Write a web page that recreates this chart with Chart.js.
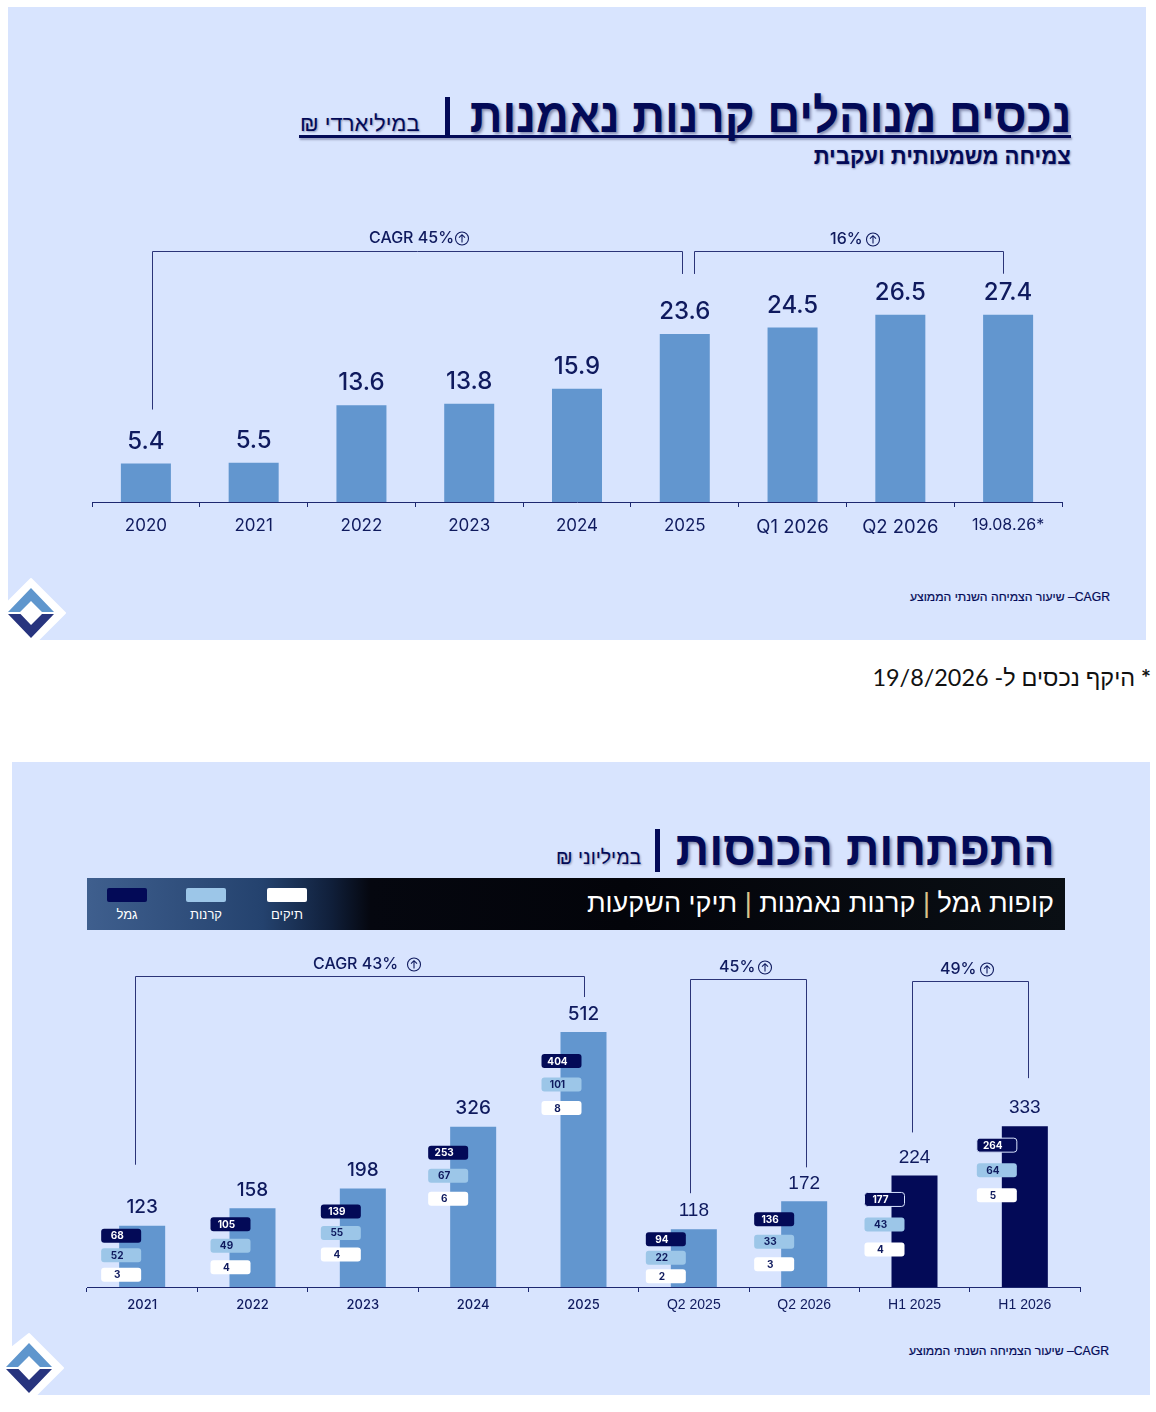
<!DOCTYPE html>
<html lang="he">
<head>
<meta charset="utf-8">
<title>נכסים מנוהלים והכנסות</title>
<script src="https://cdn.jsdelivr.net/npm/chart.js@4"></script>
<style>
  html, body { margin: 0; padding: 0; background: #fff; }
  body { position: relative; width: 1156px; height: 1412px; overflow: hidden; font-family: "Liberation Sans", sans-serif; color: #030a57; }
  .panel { position: absolute; background: #d8e4fe; width: 1138px; height: 633px; }
  #panel1 { left: 8px; top: 7px; }
  #panel2 { left: 12px; top: 762px; }
  .txt { position: absolute; white-space: nowrap; direction: rtl; line-height: 1; }
  .title { font-weight: bold; font-size: 48px; text-shadow: 2px 2px 3px rgba(0, 0, 50, .4); transform-origin: right center; }
  .unit { text-shadow: 1px 1px 2px rgba(0, 0, 50, .35); }
  .note { font-size: 12.2px; -webkit-text-stroke: .2px #030a57; }
  .bar { position: absolute; background: #030a57; width: 5px; }
  canvas { position: absolute; left: 0; }
  #chart1 { top: 220px; }
  #chart2 { top: 950px; }
  .logo { position: absolute; }
  #banner { position: absolute; left: 87px; top: 878px; width: 978px; height: 52px;
    background: linear-gradient(90deg, #3f5f8e 0%, #24426e 18%, #101f3a 25%, #05070f 29%, #03040a 55%, #0a0f14 100%); }
  .sw { position: absolute; top: 10px; width: 40px; height: 14px; border-radius: 2px; }
  .swl { position: absolute; top: 29px; width: 40px; text-align: center; color: #fff; font-size: 13px; direction: rtl; }
  #bannertxt { right: 11px; top: 12px; color: #fff; font-size: 27px; }
  #bannertxt b { color: #d9c48a; font-weight: normal; }
</style>
</head>
<body>
<div class="panel" id="panel1"></div>
<div class="panel" id="panel2"></div>

<div class="txt title" style="right:85px;top:92px;transform:scaleX(.95)">נכסים מנוהלים קרנות נאמנות</div>
<div class="bar" style="left:445px;top:97px;height:40px"></div>
<div class="txt unit" style="left:300px;top:113px;font-size:22px">במיליארדי ₪</div>
<div style="position:absolute;left:299px;top:135px;width:772px;height:3px;background:#030a57;box-shadow:1px 2px 2px rgba(0,0,50,.3)"></div>
<div class="txt unit" style="right:85px;top:145px;font-size:23px;font-weight:bold;transform:scaleX(.96);transform-origin:right center">צמיחה משמעותית ועקבית</div>
<div class="txt note" style="right:46px;top:591px">CAGR– שיעור הצמיחה השנתי הממוצע</div>
<div class="txt" style="right:5px;top:666px;font-size:23.4px;color:#111;font-family:Lato,'Liberation Sans',sans-serif"><b>*</b> היקף נכסים ל- 19/8/2026</div>

<div class="txt title" style="right:101px;top:825px;transform:scaleX(.97)">התפתחות הכנסות</div>
<div class="bar" style="left:655px;top:829px;height:43px"></div>
<div class="txt unit" style="left:556px;top:848px;font-size:19.5px">במיליוני ₪</div>
<div id="banner">
  <div class="sw" style="left:180px;background:#fff"></div><div class="swl" style="left:180px" id="lab0"></div>
  <div class="sw" style="left:99px;background:#9cc6e8"></div><div class="swl" style="left:99px" id="lab1"></div>
  <div class="sw" style="left:20px;background:#030a57"></div><div class="swl" style="left:20px" id="lab2"></div>
  <div class="txt" id="bannertxt">קופות גמל <b>|</b> קרנות נאמנות <b>|</b> תיקי השקעות</div>
</div>
<div class="txt note" style="right:47px;top:1345px">CAGR– שיעור הצמיחה השנתי הממוצע</div>

<svg class="logo" style="left:8px;top:570px" width="70" height="70" viewBox="8 570 70 70">
  <polygon points="31,579 65,613 38,640 8,640 8,602" fill="#fff" stroke="#fff" stroke-width="2" stroke-linejoin="round"/>
  <polygon points="31,588 54,612 42,612 31,601 20,612 8,612" fill="#5f96cd"/>
  <polygon points="8,614 20.5,614 31,625 42,614 54,614 31,638" fill="#27347e"/>
</svg>
<svg class="logo" style="left:0;top:1325px" width="80" height="70" viewBox="0 1325 80 70">
  <polygon points="29,1334 63,1368 36,1395 0,1395 0,1357 " fill="#fff" stroke="#fff" stroke-width="2" stroke-linejoin="round"/>
  <polygon points="29,1343 52,1367 40,1367 29,1356 18,1367 6,1367" fill="#5f96cd"/>
  <polygon points="6,1369 18.5,1369 29,1380 40,1369 52,1369 29,1393" fill="#27347e"/>
</svg>

<canvas id="chart1" width="1156" height="330"></canvas>
<canvas id="chart2" width="1156" height="370"></canvas>

<script>
// --- DATA ---
const aumCategories = ['2020', '2021', '2022', '2023', '2024', '2025', 'Q1 2026', 'Q2 2026', '19.08.26*'];
const aumLabels = ['5.4', '5.5', '13.6', '13.8', '15.9', '23.6', '24.5', '26.5', '27.4'];
// bar heights as drawn in the picture: the last bar is no taller than Q2 2026
const aumBarHeights = [5.4, 5.5, 13.6, 13.8, 15.9, 23.6, 24.5, 26.3, 26.3];

const incomeCategories = ['2021', '2022', '2023', '2024', '2025', 'Q2 2025', 'Q2 2026', 'H1 2025', 'H1 2026'];
const incomeLabels = ['123', '158', '198', '326', '512', '118', '172', '224', '333'];
// same here, 326 / 118 / 333 are drawn a bit shorter than the label says
const incomeBarHeights = [123, 158, 198, 322, 512, 116, 172, 224, 323];
const gemel = [68, 105, 139, 253, 404, 94, 136, 177, 264];
const keranot = [52, 49, 55, 67, 101, 22, 33, 43, 64];
const tikim = [3, 4, 4, 6, 8, 2, 3, 4, 5];
const seriesNames = ['תיקים', 'קרנות', 'גמל'];

// --- LAYOUT OF THE CHIPS (pixels, relative to each bar) ---
const chipShift = [-21, -22, -22, -25, -22, -28, -30, -30, -28];
const chipDrop = [10, 16, 23, 26, 29, 10, 18, 24, 19];
const chipStep = [19.5, 21.5, 21.5, 23, 23.5, 18.5, 22.5, 25, 25];

const NAVY = '#030a57';
const INK = '#0f1a5e';
const BAR = '#6296cf';
const UI_FONT = 'Inter, sans-serif';
const ARIAL = '"Liberation Sans", sans-serif';

seriesNames.forEach((n, i) => { document.getElementById('lab' + i).textContent = n; });

function circleArrow(ctx, cx, cy) {
  ctx.save();
  ctx.strokeStyle = INK;
  ctx.lineWidth = 1.1;
  ctx.beginPath();
  ctx.arc(cx, cy, 6.5, 0, Math.PI * 2);
  ctx.moveTo(cx, cy + 4);
  ctx.lineTo(cx, cy - 3.5);
  ctx.moveTo(cx - 3, cy - 0.8);
  ctx.lineTo(cx, cy - 3.8);
  ctx.lineTo(cx + 3, cy - 0.8);
  ctx.stroke();
  ctx.restore();
}

function drawBracket(chart, heights, b) {
  const x = chart.scales.x, y = chart.scales.y, ctx = chart.ctx;
  const left = Math.round(x.getPixelForValue(b.from) + b.dxL) + 0.5;
  const right = Math.round(x.getPixelForValue(b.to) + b.dxR) + 0.5;
  const top = chart.chartArea.top + b.drop + 0.5;
  ctx.save();
  ctx.strokeStyle = '#2b3478';
  ctx.lineWidth = 1;
  ctx.beginPath();
  ctx.moveTo(left, y.getPixelForValue(heights[b.from]) - b.gapL);
  ctx.lineTo(left, top);
  ctx.lineTo(right, top);
  ctx.lineTo(right, y.getPixelForValue(heights[b.to]) - b.gapR);
  ctx.stroke();
  ctx.fillStyle = INK;
  ctx.font = '500 16px ' + UI_FONT;
  ctx.textAlign = 'left';
  ctx.textBaseline = 'middle';
  ctx.fillText(b.text, b.textX, top - b.up);
  circleArrow(ctx, b.circleX, top - b.up);
  ctx.restore();
}

function valueLabels(chart, heights, labels, size, gap, fontFor) {
  const x = chart.scales.x, y = chart.scales.y, ctx = chart.ctx;
  ctx.save();
  ctx.fillStyle = INK;
  ctx.textAlign = 'center';
  ctx.textBaseline = 'middle';
  labels.forEach((t, i) => {
    ctx.font = '500 ' + size + 'px ' + fontFor(i);
    ctx.fillText(t, x.getPixelForValue(i), y.getPixelForValue(heights[i]) - gap);
  });
  ctx.restore();
}

function roundBox(ctx, x, y, w, h, r) {
  ctx.beginPath();
  ctx.roundRect(x, y, w, h, r);
}

function drawChips(chart) {
  const x = chart.scales.x, y = chart.scales.y, ctx = chart.ctx;
  ctx.save();
  ctx.font = 'bold 10px ' + UI_FONT;
  ctx.textBaseline = 'middle';
  ctx.textAlign = 'center';
  incomeCategories.forEach((c, i) => {
    const cx = x.getPixelForValue(i) + chipShift[i];
    const first = y.getPixelForValue(incomeBarHeights[i]) + chipDrop[i];
    [gemel, keranot, tikim].forEach((s, j) => {
      const cy = first + j * chipStep[i];
      ctx.fillStyle = j === 0 ? NAVY : j === 1 ? '#9cc6e8' : '#fff';
      roundBox(ctx, cx - 20, cy - 7, 40, 14, 3);
      ctx.fill();
      if (j === 0 && i >= 7) {
        ctx.strokeStyle = '#d8e4fe';
        ctx.lineWidth = 1;
        ctx.stroke();
      }
      ctx.fillStyle = j === 0 ? '#fff' : INK;
      ctx.fillText(s[i], cx - 4, cy + 0.5);
    });
  });
  ctx.restore();
}

function baseOptions(padL, padR, padT, axisH, yMax, tickFont, tickPad) {
  return {
    responsive: false,
    animation: false,
    layout: { padding: { left: padL, right: padR, top: padT, bottom: 0 } },
    plugins: { legend: { display: false }, tooltip: { enabled: false } },
    scales: {
      x: {
        afterFit: s => { s.height = axisH; },
        border: { color: '#1d2870', width: 1 },
        grid: { offset: true, drawOnChartArea: false, color: '#1d2870', tickLength: 5 },
        ticks: { autoSkip: false, maxRotation: 0, color: INK, padding: tickPad, font: tickFont }
      },
      y: { display: false, min: 0, max: yMax }
    }
  };
}

// --- CHART 1 ---
const aumBrackets = [
  { from: 0, to: 5, dxL: 6.5, dxR: -3, drop: 0, up: 13, gapL: 54, gapR: 60, text: 'CAGR 45%', textX: 369, circleX: 462 },
  { from: 5, to: 8, dxL: 9.5, dxR: -5, drop: 0, up: 12, gapL: 60, gapR: 41, text: '16%', textX: 830, circleX: 873 }
];

new Chart(document.getElementById('chart1'), {
  type: 'bar',
  data: {
    labels: aumCategories,
    datasets: [{ data: aumBarHeights, backgroundColor: BAR, barPercentage: 0.464, categoryPercentage: 1 }]
  },
  options: baseOptions(92, 94, 31, 48, 35.25,
    ctx => ({ size: ctx.index === 8 ? 16 : ctx.index >= 6 ? 18.5 : 17, family: UI_FONT, weight: '400' }), 9),
  plugins: [{
    id: 'aumMarks',
    afterDatasetsDraw(chart) {
      valueLabels(chart, aumBarHeights, aumLabels, 24, 22, () => UI_FONT);
      aumBrackets.forEach(b => drawBracket(chart, aumBarHeights, b));
    }
  }]
});

// --- CHART 2 ---
const incomeBrackets = [
  { from: 0, to: 4, dxL: -7, dxR: 0.5, drop: 0, up: 12, gapL: 61, gapR: 35, text: 'CAGR 43%', textX: 313, circleX: 414 },
  { from: 5, to: 6, dxL: -4, dxR: 2, drop: 3, up: 12, gapL: 36, gapR: 34, text: '45%', textX: 719, circleX: 765 },
  { from: 7, to: 8, dxL: -3, dxR: 3, drop: 5, up: 12, gapL: 43, gapR: 48, text: '49%', textX: 940, circleX: 987 }
];

new Chart(document.getElementById('chart2'), {
  type: 'bar',
  data: {
    labels: incomeCategories,
    datasets: [{
      data: incomeBarHeights,
      backgroundColor: incomeCategories.map((c, i) => i >= 7 ? NAVY : BAR),
      barPercentage: 0.417,
      categoryPercentage: 1
    }]
  },
  options: baseOptions(87, 76, 26, 33, 624.5,
    ctx => ctx.index >= 5 ? { size: 14, family: ARIAL } : { size: 13, family: UI_FONT, weight: '500' }, 5),
  plugins: [{
    id: 'incomeMarks',
    afterDatasetsDraw(chart) {
      drawChips(chart);
      valueLabels(chart, incomeBarHeights, incomeLabels, 19, 18, i => i >= 5 ? ARIAL : UI_FONT);
      incomeBrackets.forEach(b => drawBracket(chart, incomeBarHeights, b));
    }
  }]
});
</script>
</body>
</html>
